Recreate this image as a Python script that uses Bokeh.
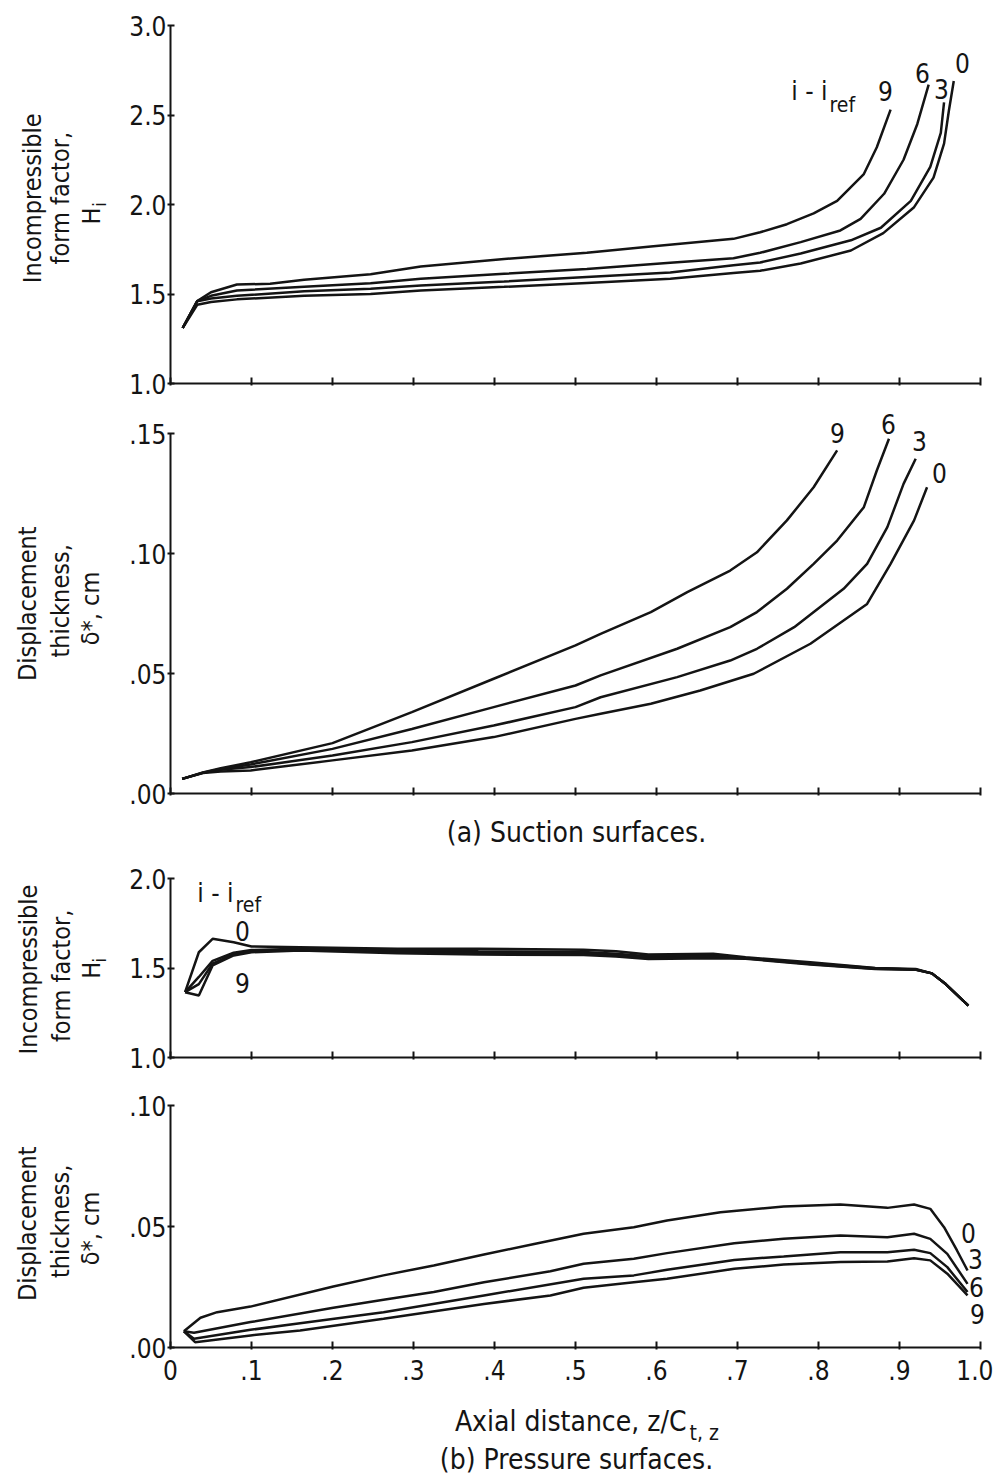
from bokeh.plotting import figure
from bokeh.models import Range1d, FixedTicker, Label
from bokeh.layouts import column, row
from bokeh.embed import file_html
from bokeh.resources import INLINE

FONT = "DejaVu Sans Condensed, DejaVu Sans"
INK = "#141414"

# ---------------- tick definitions ----------------
x_ticks = [0.0, 0.1, 0.2, 0.3, 0.4, 0.5, 0.6, 0.7, 0.8, 0.9, 1.0]
x_tick_labels = ["0", ".1", ".2", ".3", ".4", ".5", ".6", ".7", ".8", ".9", "1.0"]
sH_ticks = [1.0, 1.5, 2.0, 2.5, 3.0]
sH_tick_labels = ["1.0", "1.5", "2.0", "2.5", "3.0"]
sd_ticks = [0.0, 0.05, 0.10, 0.15]
sd_tick_labels = [".00", ".05", ".10", ".15"]
pH_ticks = [1.0, 1.5, 2.0]
pH_tick_labels = ["1.0", "1.5", "2.0"]
pd_ticks = [0.0, 0.05, 0.10]
pd_tick_labels = [".00", ".05", ".10"]

# ---------------- (a) suction surfaces: form factor H_i ----------------
s_H_x9 = [0.015, 0.033, 0.05, 0.082, 0.123, 0.165, 0.247, 0.309, 0.412, 0.514, 0.593, 0.695, 0.728, 0.761, 0.794, 0.823, 0.856, 0.872, 0.889]
s_H_9 = [1.31, 1.46, 1.51, 1.553, 1.557, 1.58, 1.61, 1.654, 1.696, 1.73, 1.765, 1.808, 1.845, 1.89, 1.95, 2.02, 2.17, 2.32, 2.53]
s_H_x6 = [0.015, 0.033, 0.05, 0.082, 0.165, 0.247, 0.309, 0.412, 0.514, 0.617, 0.695, 0.728, 0.778, 0.827, 0.852, 0.881, 0.905, 0.922, 0.936]
s_H_6 = [1.31, 1.46, 1.49, 1.52, 1.54, 1.56, 1.585, 1.613, 1.64, 1.675, 1.70, 1.73, 1.79, 1.855, 1.92, 2.06, 2.25, 2.45, 2.67]
s_H_x3 = [0.015, 0.033, 0.05, 0.082, 0.165, 0.247, 0.309, 0.412, 0.514, 0.617, 0.695, 0.728, 0.778, 0.840, 0.877, 0.914, 0.938, 0.951, 0.955]
s_H_3 = [1.31, 1.46, 1.475, 1.49, 1.515, 1.53, 1.547, 1.57, 1.595, 1.62, 1.66, 1.676, 1.726, 1.80, 1.87, 2.02, 2.21, 2.40, 2.57]
s_H_x0 = [0.015, 0.033, 0.05, 0.082, 0.165, 0.247, 0.309, 0.412, 0.514, 0.617, 0.695, 0.728, 0.778, 0.840, 0.880, 0.918, 0.942, 0.955, 0.961, 0.967]
s_H_0 = [1.31, 1.44, 1.455, 1.47, 1.49, 1.50, 1.52, 1.54, 1.562, 1.585, 1.617, 1.63, 1.67, 1.743, 1.84, 1.985, 2.15, 2.34, 2.525, 2.69]

# ---------------- (a) suction surfaces: displacement thickness ----------------
s_d_x9 = [0.0144, 0.04, 0.062, 0.099, 0.2, 0.298, 0.399, 0.5, 0.531, 0.593, 0.638, 0.691, 0.724, 0.761, 0.794, 0.823]
s_d_9 = [0.0061, 0.0088, 0.0105, 0.013, 0.021, 0.0339, 0.0478, 0.0617, 0.0665, 0.0756, 0.0839, 0.0929, 0.1005, 0.1138, 0.1276, 0.143]
s_d_x6 = [0.0144, 0.04, 0.062, 0.099, 0.2, 0.298, 0.399, 0.5, 0.531, 0.6255, 0.691, 0.724, 0.761, 0.794, 0.823, 0.856, 0.872, 0.887]
s_d_6 = [0.0061, 0.0087, 0.0102, 0.0121, 0.0186, 0.0269, 0.036, 0.045, 0.0492, 0.0603, 0.0693, 0.0756, 0.0853, 0.0957, 0.1054, 0.1193, 0.1346, 0.1478]
s_d_x3 = [0.0144, 0.04, 0.062, 0.099, 0.2, 0.298, 0.399, 0.5, 0.531, 0.6255, 0.691, 0.724, 0.770, 0.831, 0.860, 0.885, 0.905, 0.920]
s_d_3 = [0.0061, 0.0086, 0.0099, 0.011, 0.0158, 0.0214, 0.0283, 0.036, 0.0401, 0.0485, 0.0554, 0.0603, 0.0693, 0.0853, 0.0957, 0.111, 0.129, 0.1395]
s_d_x0 = [0.0144, 0.04, 0.062, 0.099, 0.2, 0.298, 0.399, 0.5, 0.531, 0.593, 0.654, 0.720, 0.790, 0.860, 0.889, 0.918, 0.934]
s_d_0 = [0.0061, 0.0085, 0.0092, 0.0096, 0.0138, 0.0179, 0.0235, 0.0311, 0.0332, 0.0374, 0.0429, 0.0499, 0.0624, 0.079, 0.0957, 0.1138, 0.1276]

# ---------------- (b) pressure surfaces: form factor H_i ----------------
p_H_x = [0.018, 0.035, 0.052, 0.078, 0.10, 0.16, 0.28, 0.38, 0.51, 0.55, 0.59, 0.67, 0.71, 0.79, 0.87, 0.92, 0.94, 0.957, 0.985]
p_H_0 = [1.365, 1.588, 1.663, 1.644, 1.62, 1.616, 1.607, 1.607, 1.602, 1.594, 1.575, 1.58, 1.56, 1.532, 1.50, 1.495, 1.47, 1.41, 1.29]
p_H_3 = [1.365, 1.45, 1.54, 1.585, 1.60, 1.608, 1.598, 1.594, 1.59, 1.58, 1.565, 1.568, 1.556, 1.526, 1.498, 1.492, 1.47, 1.41, 1.29]
p_H_6 = [1.365, 1.41, 1.525, 1.578, 1.595, 1.603, 1.59, 1.585, 1.582, 1.572, 1.558, 1.562, 1.554, 1.523, 1.496, 1.491, 1.47, 1.41, 1.29]
p_H_9 = [1.365, 1.346, 1.514, 1.57, 1.588, 1.598, 1.583, 1.575, 1.573, 1.564, 1.55, 1.555, 1.552, 1.52, 1.495, 1.49, 1.47, 1.41, 1.29]

# ---------------- (b) pressure surfaces: displacement thickness ----------------
p_d_x0 = [0.0165, 0.037, 0.0576, 0.0988, 0.201, 0.263, 0.325, 0.387, 0.449, 0.510, 0.572, 0.613, 0.679, 0.757, 0.827, 0.885, 0.918, 0.938, 0.955, 0.971, 0.984]
p_d_0 = [0.0067, 0.0123, 0.0146, 0.0169, 0.0252, 0.0298, 0.0339, 0.0384, 0.0428, 0.047, 0.0497, 0.0525, 0.0559, 0.0583, 0.0591, 0.0577, 0.0591, 0.0573, 0.0497, 0.0401, 0.0318]
p_d_x3 = [0.0165, 0.029, 0.0988, 0.201, 0.263, 0.325, 0.387, 0.469, 0.510, 0.572, 0.613, 0.696, 0.757, 0.827, 0.885, 0.918, 0.938, 0.959, 0.984]
p_d_3 = [0.0067, 0.0061, 0.0105, 0.0164, 0.0197, 0.0229, 0.027, 0.0315, 0.0346, 0.0367, 0.039, 0.0431, 0.0449, 0.0463, 0.0456, 0.047, 0.0449, 0.0387, 0.0263]
p_d_x6 = [0.0165, 0.029, 0.0988, 0.160, 0.263, 0.387, 0.510, 0.572, 0.613, 0.696, 0.757, 0.827, 0.885, 0.918, 0.938, 0.959, 0.984]
p_d_6 = [0.0067, 0.0036, 0.0073, 0.01, 0.0146, 0.0215, 0.0284, 0.0298, 0.0321, 0.0362, 0.0376, 0.0394, 0.0394, 0.0404, 0.039, 0.0332, 0.0229]
p_d_x9 = [0.0165, 0.0304, 0.0988, 0.160, 0.263, 0.387, 0.469, 0.510, 0.572, 0.613, 0.696, 0.757, 0.827, 0.885, 0.918, 0.938, 0.959, 0.984]
p_d_9 = [0.0067, 0.0022, 0.005, 0.007, 0.0119, 0.018, 0.0215, 0.0247, 0.027, 0.0284, 0.0325, 0.0343, 0.0353, 0.0355, 0.0369, 0.036, 0.0305, 0.0215]

curve_names = ["0", "3", "6", "9"]
legend_title = "i - i"
legend_sub = "ref"

# ---------------- layout constants (page pixels) ----------------
PAGE_W = 993
TITLE_W = 110          # strip holding the rotated y titles
FRAME_LEFT = 170       # page x of the x = 0 axis
PX_PER_X = 810         # pixels per unit of z/C
FRAME_W = 820          # frame a bit wider than 1.0 so end labels fit
ROT = 1.5707963267948966
LW = 2.5


def text_fig(w, h):
    f = figure(width=w, height=h, x_range=Range1d(0, w), y_range=Range1d(h, 0),
               output_backend="svg", toolbar_location=None,
               x_axis_type=None, y_axis_type=None, min_border=0)
    f.outline_line_color = None
    f.background_fill_color = "white"
    f.border_fill_color = "white"
    return f


def make_panel(height, b_top, frame_h, y0, y1, ybound, yticks, ylabels, show_x):
    p = figure(width=PAGE_W - TITLE_W, height=height,
               x_range=Range1d(0, FRAME_W / PX_PER_X), y_range=Range1d(y0, y1),
               output_backend="svg", toolbar_location=None,
               min_border_left=FRAME_LEFT - TITLE_W,
               min_border_right=PAGE_W - FRAME_LEFT - FRAME_W,
               min_border_top=b_top, min_border_bottom=height - b_top - frame_h)
    p.outline_line_color = None
    p.background_fill_color = "white"
    p.border_fill_color = "white"
    p.xgrid.visible = False
    p.ygrid.visible = False
    for ax in (p.xaxis[0], p.yaxis[0]):
        ax.axis_line_width = 2
        ax.axis_line_color = INK
        ax.major_tick_line_width = 2
        ax.major_tick_line_color = INK
        ax.minor_tick_line_color = None
        ax.major_label_text_font = FONT
        ax.major_label_text_font_size = "26px"
        ax.major_label_text_color = INK
    p.xaxis.bounds = (0, 1)
    p.yaxis.bounds = ybound
    p.xaxis.ticker = FixedTicker(ticks=x_ticks)
    p.xaxis.major_tick_in = 6
    p.xaxis.major_tick_out = 2
    p.yaxis.ticker = FixedTicker(ticks=yticks)
    p.yaxis.major_label_overrides = {t: l for t, l in zip(yticks, ylabels)}
    p.yaxis.major_tick_in = 4
    p.yaxis.major_tick_out = 3
    p.yaxis.major_label_standoff = 1
    if show_x:
        p.xaxis.major_label_overrides = {t: l for t, l in zip(x_ticks, x_tick_labels)}
        p.xaxis.major_label_standoff = 10
    else:
        p.xaxis.major_label_overrides = {t: "" for t in x_ticks}
        p.xaxis.major_label_text_font_size = "2px"
        p.xaxis.major_label_standoff = 0
    return p


def conv(frame_top_px, frame_h_px, y0, y1):
    def f(px, py):
        return ((px - FRAME_LEFT) / PX_PER_X,
                y0 + (frame_top_px + frame_h_px - py) / frame_h_px * (y1 - y0))
    return f


def add_text(fig, xy, text, size="26px", angle=0.0, align="center", baseline="middle"):
    x, y = xy
    fig.add_layout(Label(x=x, y=y, text=text, angle=angle, text_align=align,
                         text_baseline=baseline, text_font=FONT,
                         text_font_size=size, text_color=INK))


# ---------- row 1 : suction H (page y 0 .. 400) ----------
p1 = make_panel(400, 25, 358, 1.0, 3.0, (1.0, 3.0), sH_ticks, sH_tick_labels, False)
c1 = conv(25, 358, 1.0, 3.0)
for xs, ys in [(s_H_x0, s_H_0), (s_H_x3, s_H_3), (s_H_x6, s_H_6), (s_H_x9, s_H_9)]:
    p1.line(xs, ys, line_width=LW, line_color=INK)
add_text(p1, c1(827, 90), legend_title, "26px", 0, "right")
add_text(p1, c1(829, 104), legend_sub, "21px", 0, "left")
for name, pos in zip(curve_names, [(962, 62), (941, 88), (922, 72), (885, 90)]):
    add_text(p1, c1(*pos), name)
t1 = text_fig(TITLE_W, 400)
add_text(t1, (32, 193), "Incompressible", "25px", ROT)
add_text(t1, (60, 193), "form factor,", "25px", ROT)
add_text(t1, (91, 213), "H", "25px", ROT)
add_text(t1, (99, 200), "i", "18px", ROT)

# ---------- row 2 : suction delta* (page y 400 .. 810) ----------
SD_PX = 2400.0   # pixels per cm of displacement thickness, panel (a)
p2 = make_panel(410, 4, 389, 0.0, 389 / SD_PX, (0.0, 0.15), sd_ticks, sd_tick_labels, False)
c2 = conv(404, 389, 0.0, 389 / SD_PX)
for xs, ys in [(s_d_x0, s_d_0), (s_d_x3, s_d_3), (s_d_x6, s_d_6), (s_d_x9, s_d_9)]:
    p2.line(xs, ys, line_width=LW, line_color=INK)
for name, pos in zip(curve_names, [(939, 472), (919, 440), (888, 423), (837, 432)]):
    add_text(p2, c2(*pos), name)
t2 = text_fig(TITLE_W, 410)
add_text(t2, (27, 210), "Displacement", "25px", ROT)
add_text(t2, (60, 207), "thickness,", "25px", ROT)
add_text(t2, (90, 215), "δ*, cm", "25px", ROT)

# ---------- caption (a) (page y 810 .. 850) ----------
cap_a = text_fig(PAGE_W, 40)
add_text(cap_a, (576, 22), "(a) Suction surfaces.", "28px")

# ---------- row 3 : pressure H (page y 850 .. 1080) ----------
p3 = make_panel(230, 28, 179, 1.0, 2.0, (1.0, 2.0), pH_ticks, pH_tick_labels, False)
c3 = conv(878, 179, 1.0, 2.0)
for ys in [p_H_0, p_H_3, p_H_6, p_H_9]:
    p3.line(p_H_x, ys, line_width=LW, line_color=INK)
add_text(p3, c3(233, 892), legend_title, "26px", 0, "right")
add_text(p3, c3(235, 904), legend_sub, "21px", 0, "left")
add_text(p3, c3(242, 930), curve_names[0])
add_text(p3, c3(242, 982), curve_names[3])
t3 = text_fig(TITLE_W, 230)
add_text(t3, (28, 117), "Incompressible", "25px", ROT)
add_text(t3, (61, 125), "form factor,", "25px", ROT)
add_text(t3, (91, 118), "H", "25px", ROT)
add_text(t3, (99, 105), "i", "18px", ROT)

# ---------- row 4 : pressure delta* (page y 1080 .. 1387) ----------
p4 = make_panel(307, 25, 242, 0.0, 0.10, (0.0, 0.10), pd_ticks, pd_tick_labels, True)
c4 = conv(1105, 242, 0.0, 0.10)
for xs, ys in [(p_d_x0, p_d_0), (p_d_x3, p_d_3), (p_d_x6, p_d_6), (p_d_x9, p_d_9)]:
    p4.line(xs, ys, line_width=LW, line_color=INK)
for name, pos in zip(curve_names, [(968, 1232), (975, 1258), (976, 1286), (977, 1313)]):
    add_text(p4, c4(*pos), name)
t4 = text_fig(TITLE_W, 307)
add_text(t4, (27, 150), "Displacement", "25px", ROT)
add_text(t4, (60, 147), "thickness,", "25px", ROT)
add_text(t4, (90, 156), "δ*, cm", "25px", ROT)

# ---------- x title and caption (b) (page y 1387 .. 1478) ----------
bottom = text_fig(PAGE_W, 91)
add_text(bottom, (686, 34), "Axial distance, z/C", "28px", 0, "right")
add_text(bottom, (689, 45), "t, z", "21px", 0, "left")
add_text(bottom, (576, 72), "(b) Pressure surfaces.", "28px")

layout = column(row(t1, p1), row(t2, p2), cap_a, row(t3, p3), row(t4, p4), bottom)
open("out.html", "w").write(file_html(layout, INLINE))
